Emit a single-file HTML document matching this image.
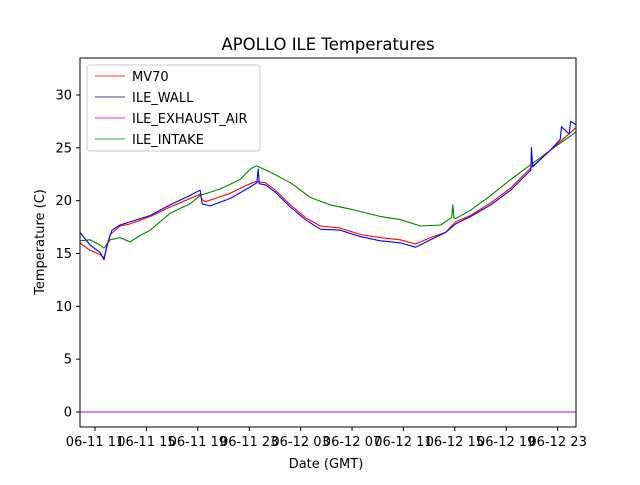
<!DOCTYPE html>
<html><head><meta charset="utf-8"><style>
body{margin:0;background:#fff}
svg text{font-family:"DejaVu Sans","Liberation Sans",sans-serif;fill:#000}
</style></head><body>
<svg id="chart" width="640" height="480" viewBox="0 0 640 480">
<rect width="640" height="480" fill="#fff"/>
<text x="328" y="50" font-size="16.5" text-anchor="middle">APOLLO ILE Temperatures</text>
<g id="plot"></g>
<rect x="80" y="58" width="496" height="369" fill="none" stroke="#000" stroke-width="1"/>
<g id="axes"></g>
<text x="326" y="468" font-size="13" text-anchor="middle">Date (GMT)</text>
<text transform="translate(44,242) rotate(-90)" font-size="13" text-anchor="middle">Temperature (C)</text>
<g>
<rect x="87" y="65" width="173" height="86" rx="3" fill="#fff" fill-opacity="0.8" stroke="#ccc"/>
<line x1="95" y1="76" x2="125" y2="76" stroke="red" stroke-width="0.8"/>
<text x="132" y="81" font-size="13">MV70</text>
<line x1="95" y1="97" x2="125" y2="97" stroke="#00008b" stroke-width="0.8"/>
<text x="132" y="102" font-size="13">ILE_WALL</text>
<line x1="95" y1="118" x2="125" y2="118" stroke="#bf00bf" stroke-width="0.8"/>
<text x="132" y="123" font-size="13">ILE_EXHAUST_AIR</text>
<line x1="95" y1="139" x2="125" y2="139" stroke="green" stroke-width="0.8"/>
<text x="132" y="144" font-size="13">ILE_INTAKE</text>
</g>
</svg>
<script>
const yTicks=[0,5,10,15,20,25,30];
const xTickHours=[11,15,19,23,27,31,35,39,43,47];
const xTickLabels=["06-11 11","06-11 15","06-11 19","06-11 23","06-12 03","06-12 07","06-12 11","06-12 15","06-12 19","06-12 23"];
const redT=[9.83,10.61,11.39,11.70,11.86,12.17,12.95,13.73,15.29,16.84,18.40,19.18,19.34,19.57,20.35,21.52,22.69,23.47,24.25,25.03,26.20,27.37,28.54,30.09,31.65,33.21,34.77,35.94,37.11,38.28,39.06,40.23,41.79,43.35,44.91,46.46,48.43];
const redV=[16.0,15.3,14.9,14.6,15.3,16.8,17.6,17.8,18.5,19.4,20.2,20.6,20.1,19.9,20.2,20.7,21.4,21.8,21.7,21.0,19.6,18.4,17.6,17.4,16.8,16.5,16.3,15.9,16.5,17.0,18.0,18.6,19.8,21.2,23.1,24.8,26.9];
const blueT=[9.83,10.61,11.39,11.70,11.93,12.32,12.95,15.29,16.84,18.40,19.18,19.34,19.96,21.52,23.08,23.60,23.70,23.78,24.25,25.03,26.20,27.37,28.54,30.09,31.65,33.21,34.77,35.94,37.11,38.28,39.06,40.23,41.79,43.35,44.91,44.97,45.05,46.46,47.2,47.3,47.9,48.0,48.43];
const blueV=[17.0,15.8,15.1,14.4,15.8,17.2,17.7,18.6,19.6,20.5,21.0,19.7,19.5,20.2,21.3,21.7,23.0,21.6,21.5,20.8,19.4,18.2,17.3,17.2,16.6,16.2,16.0,15.6,16.3,17.0,17.8,18.5,19.6,21.0,22.9,25.0,23.2,24.8,25.8,27.0,26.3,27.5,27.2];
const greenT=[9.83,10.61,11.39,11.70,12.17,12.95,13.73,14.51,15.29,16.84,18.40,19.18,20.74,22.30,23.08,23.55,24.64,26.20,27.76,29.32,30.87,33.21,34.77,36.33,37.89,38.75,38.85,38.92,39.06,40.23,41.79,43.35,44.91,46.46,48.43];
const greenV=[16.2,16.3,15.8,15.5,16.3,16.5,16.1,16.7,17.2,18.8,19.7,20.5,21.1,22.0,23.0,23.3,22.7,21.7,20.3,19.6,19.2,18.5,18.2,17.6,17.7,18.4,19.6,18.4,18.3,19.1,20.5,22.0,23.4,24.8,26.5];
const exhaustT=[9.83,48.43];
const exhaustV=[0,0];
const X0=80,X1=576,H0=9.83,H1=48.43,Y0=412,YPER=10.567;
function xs(h){return X0+(h-H0)/(H1-H0)*(X1-X0);}
function ys(v){return Y0-v*YPER;}
const NS="http://www.w3.org/2000/svg";
const plot=document.getElementById('plot'),axes=document.getElementById('axes');
function line(t,v,color,name,w){
 const p=document.createElementNS(NS,'polyline');
 p.setAttribute('points',t.map((h,i)=>xs(h).toFixed(1)+','+ys(v[i]).toFixed(1)).join(' '));
 p.setAttribute('fill','none');p.setAttribute('stroke',color);p.setAttribute('stroke-width',w);
 p.setAttribute('stroke-linejoin','round');
 
 
 plot.appendChild(p);
}
line(exhaustT,exhaustV,'#bf00bf','series-ile-exhaust-air',1);
line(greenT,greenV,'green','series-ile-intake',1.1);
line(redT,redV,'red','series-mv70',1.1);
line(blueT,blueV,'blue','series-ile-wall',1.1);
yTicks.forEach(v=>{
 const y=ys(v);
 const l=document.createElementNS(NS,'line');
 l.setAttribute('x1',76);l.setAttribute('x2',80);l.setAttribute('y1',y);l.setAttribute('y2',y);l.setAttribute('stroke','#000');
 
 
 axes.appendChild(l);
 const t=document.createElementNS(NS,'text');
 t.setAttribute('x',72);t.setAttribute('y',y+4.5);t.setAttribute('font-size','13');t.setAttribute('text-anchor','end');
 t.textContent=v;
 
 
 axes.appendChild(t);
});
xTickHours.forEach((h,i)=>{
 const x=xs(h);
 const l=document.createElementNS(NS,'line');
 l.setAttribute('x1',x);l.setAttribute('x2',x);l.setAttribute('y1',427);l.setAttribute('y2',431);l.setAttribute('stroke','#000');
 
 
 axes.appendChild(l);
 const t=document.createElementNS(NS,'text');
 t.setAttribute('x',x);t.setAttribute('y',446);t.setAttribute('font-size','13');t.setAttribute('text-anchor','middle');
 t.textContent=xTickLabels[i];
 
 
 axes.appendChild(t);
});
</script>
</body></html>
